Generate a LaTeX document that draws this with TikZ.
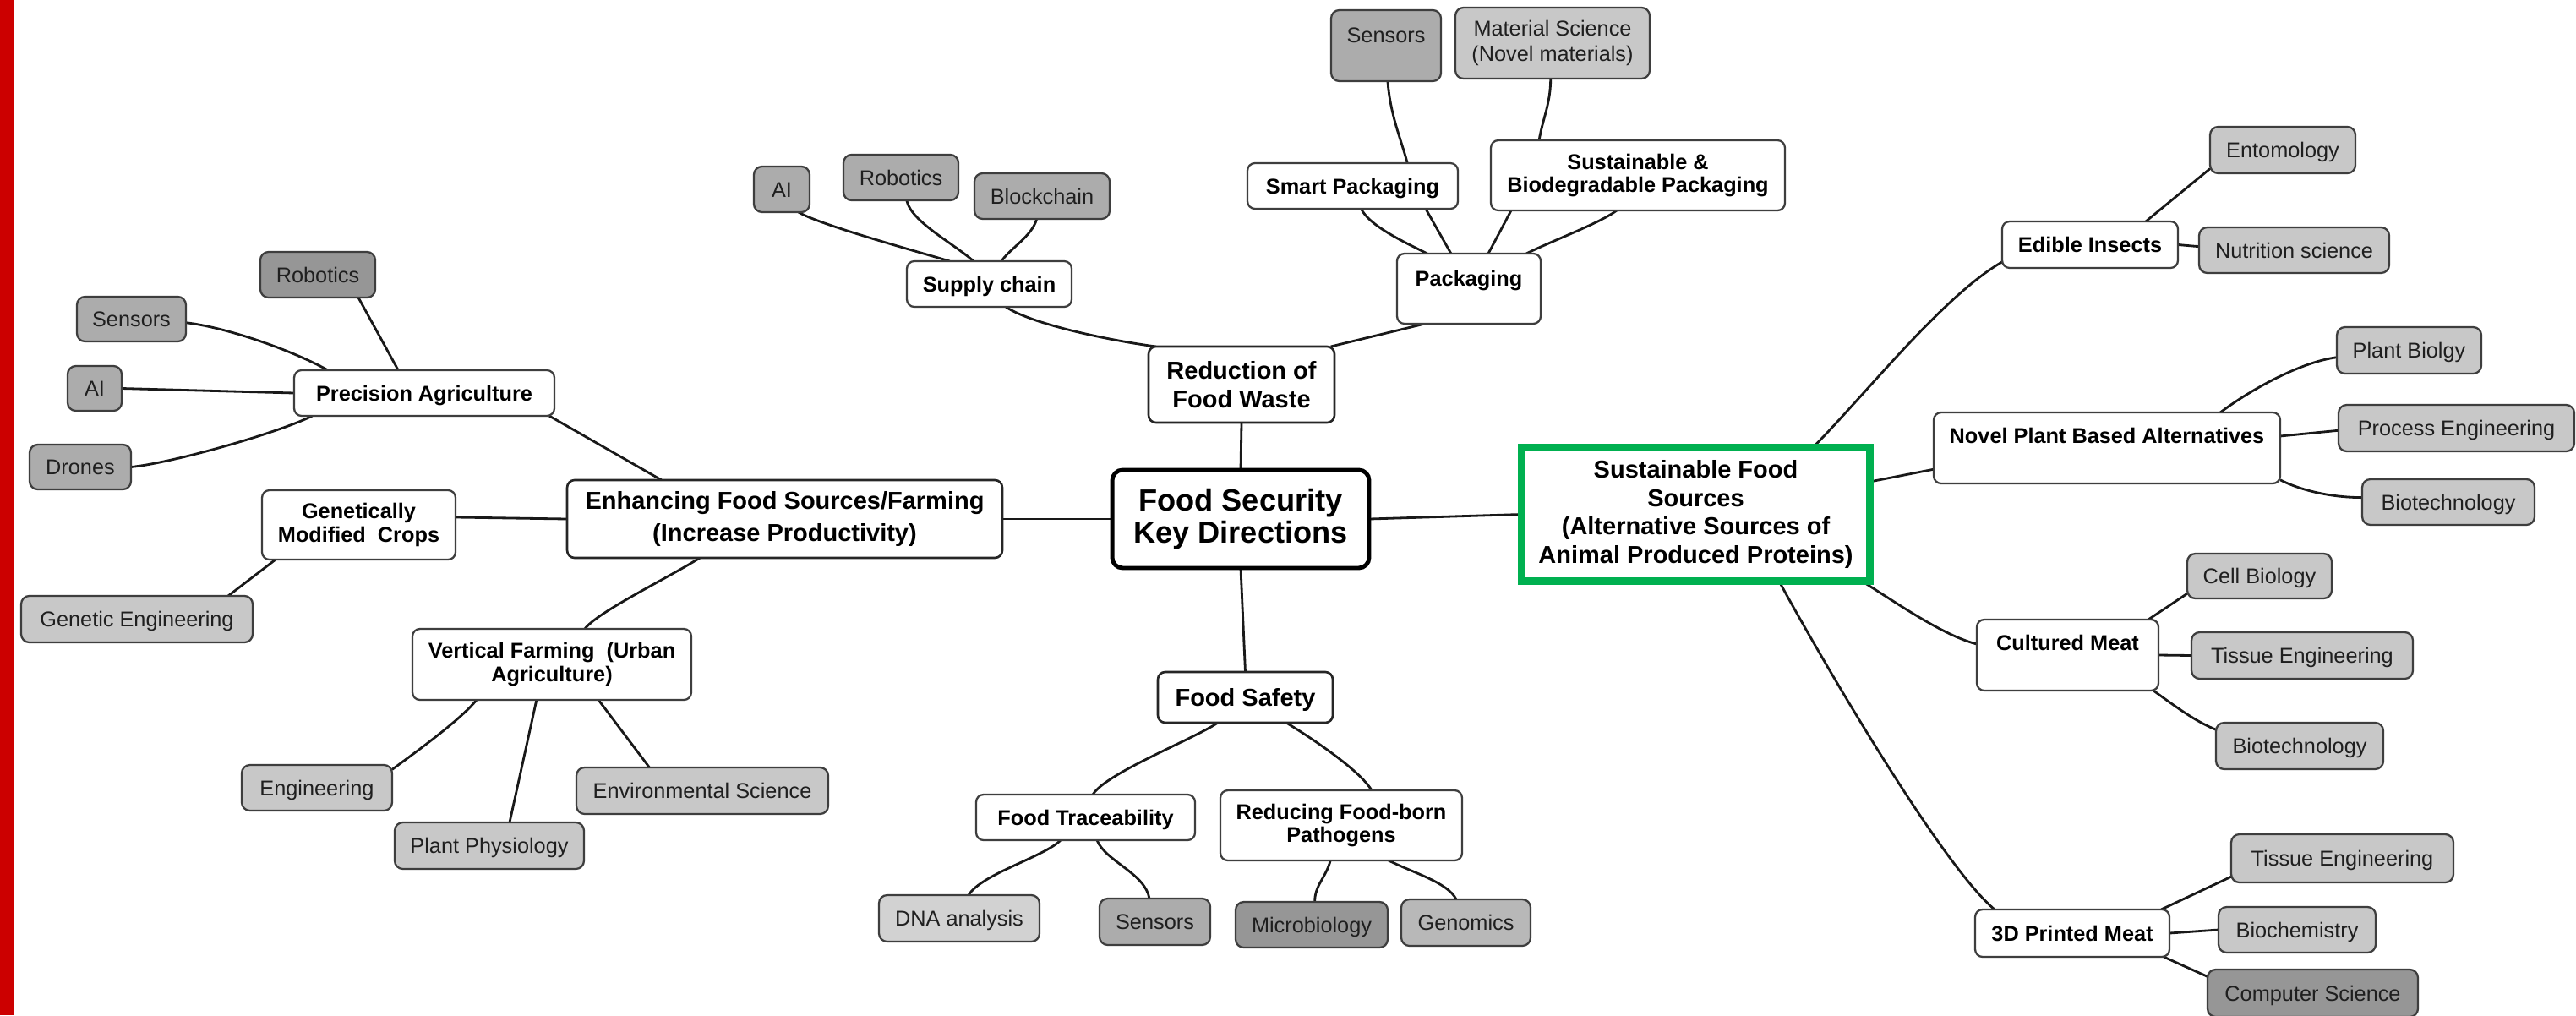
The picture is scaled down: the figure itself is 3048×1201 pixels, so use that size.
\documentclass[tikz,border=0pt]{standalone}
\usepackage{fontspec}
\setmainfont{Liberation Sans}
\usetikzlibrary{calc,backgrounds}
\definecolor{gL}{RGB}{200,200,200}
\definecolor{gM}{RGB}{172,172,172}
\definecolor{gD}{RGB}{150,150,150}
\definecolor{gN}{RGB}{184,184,184}
\definecolor{gP}{RGB}{210,210,210}
\definecolor{bord}{RGB}{62,62,62}
\definecolor{sfsgreen}{RGB}{0,176,80}
\definecolor{redbar}{RGB}{204,0,0}
\newcommand{\mmbox}[7]{\node[#2, minimum width={(#4-#3)*0.569055pt}, minimum height={(#6-#5)*0.569055pt}] (#1) at ({(#3+#4)/2},{(#5+#6)/2}) {#7};}
\newcommand{\tpf}[2]{($(#1.north west)!#2!(#1.north east)$)}
\newcommand{\btf}[2]{($(#1.south west)!#2!(#1.south east)$)}
\newcommand{\lff}[2]{($(#1.north west)!#2!(#1.south west)$)}
\newcommand{\rtf}[2]{($(#1.north east)!#2!(#1.south east)$)}
\tikzset{
  basebox/.style={rectangle, inner sep=0pt, outer sep=0pt, align=center},
  lvzero/.style={basebox, fill=white, draw=black, line width=2.8pt, rounded corners=7pt,
     font=\fontsize{20.6}{21.8}\selectfont\bfseries},
  lvone/.style={basebox, fill=white, draw=black!85, line width=1.5pt, rounded corners=5pt,
     font=\fontsize{16.5}{19}\selectfont\bfseries},
  sfsbox/.style={basebox, fill=white, draw=sfsgreen, line width=5.1pt,
     font=\fontsize{16.5}{19}\selectfont\bfseries},
  wbox/.style={basebox, fill=white, draw=bord, line width=1.3pt, rounded corners=5pt,
     font=\fontsize{14.4}{15.6}\selectfont\bfseries},
  leaf/.style={basebox, fill=#1, draw=bord, line width=1.3pt, rounded corners=5.5pt,
     text=black!88, font=\fontsize{14.4}{17}\selectfont},
  oneln/.style={text height=10.9pt, text depth=0.6pt},
  onelnb/.style={text height=12.4pt, text depth=0.6pt},
  liftt/.style={text height=10.9pt, text depth=#1},
  conn/.style={draw=black!90, line width=1.6pt}
}
\begin{document}
\begin{tikzpicture}[x=0.02cm, y=-0.02cm]
\useasboundingbox (0,0) rectangle (3048,1201);
% central and first level
\mmbox{C}{lvzero}{1316}{1620}{556}{672}{Food Security\\Key Directions}
\mmbox{RW}{lvone}{1359}{1579}{410}{500}{Reduction of\\Food Waste}
\mmbox{FS}{lvone,onelnb}{1370}{1577}{795}{855}{Food Safety}
\mmbox{EN}{lvone,font=\fontsize{16.5}{21.6}\selectfont\bfseries}{671}{1186}{568}{660}{Enhancing Food Sources/Farming\\(Increase Productivity)}
\mmbox{SFS}{sfsbox}{1800.5}{2212.5}{529.5}{687.5}{Sustainable Food\\Sources\\(Alternative Sources of\\Animal Produced Proteins)}
% second level
\mmbox{SC}{wbox,oneln}{1073}{1268}{309}{363}{Supply chain}
\mmbox{PK}{wbox,liftt=13.8pt}{1653}{1823}{300}{383}{Packaging}
\mmbox{SP}{wbox,oneln}{1476}{1725}{193}{247}{Smart Packaging}
\mmbox{SB}{wbox}{1764}{2112}{166}{249}{Sustainable \&\\Biodegradable Packaging}
\mmbox{PA}{wbox,oneln}{348}{656}{438}{492}{Precision Agriculture}
\mmbox{GMC}{wbox}{310}{539}{580}{662}{Genetically\\Modified\ \ Crops}
\mmbox{VF}{wbox}{488}{818}{744}{828}{Vertical Farming\ \ (Urban\\Agriculture)}
\mmbox{FT}{wbox,oneln}{1155}{1414}{940}{994}{Food Traceability}
\mmbox{RP}{wbox}{1444}{1730}{935}{1018}{Reducing Food-born\\Pathogens}
\mmbox{EI}{wbox,oneln}{2369}{2577}{262}{317}{Edible Insects}
\mmbox{NPBA}{wbox,liftt=17.2pt}{2288}{2698}{488}{572}{Novel Plant Based Alternatives}
\mmbox{CM}{wbox,liftt=17.2pt}{2339}{2554}{733}{817}{Cultured Meat}
\mmbox{TDP}{wbox,oneln}{2337}{2567}{1076}{1132}{3D Printed Meat}
% leaves
\mmbox{AIt}{leaf=gM,oneln}{892}{958}{197}{251}{AI}
\mmbox{ROt}{leaf=gM,oneln}{998}{1134}{183}{237}{Robotics}
\mmbox{BC}{leaf=gM,oneln}{1153}{1313}{205}{259}{Blockchain}
\mmbox{SNt}{leaf=gM,liftt=14.9pt}{1575}{1705}{12}{96}{Sensors}
\mmbox{MS}{leaf=gL}{1722}{1952}{9}{93}{Material Science\\(Novel materials)}
\mmbox{ROl}{leaf=gD,oneln}{308}{444}{298}{352}{Robotics}
\mmbox{SNl}{leaf=gM,oneln}{91}{220}{351}{404}{Sensors}
\mmbox{AIl}{leaf=gM,oneln}{80}{144}{433}{486}{AI}
\mmbox{DR}{leaf=gM,oneln}{35}{155}{526}{579}{Drones}
\mmbox{GE}{leaf=gL,oneln}{25}{299}{705}{760}{Genetic Engineering}
\mmbox{ENG}{leaf=gL,oneln}{286}{464}{905}{959}{Engineering}
\mmbox{PP}{leaf=gL,oneln}{467}{691}{973}{1028}{Plant Physiology}
\mmbox{ES}{leaf=gL,oneln}{682}{980}{908}{963}{Environmental Science}
\mmbox{DNA}{leaf=gP,oneln}{1040}{1230}{1059}{1114}{DNA analysis}
\mmbox{SNb}{leaf=gM,oneln}{1301}{1432}{1063}{1118}{Sensors}
\mmbox{MB}{leaf=gD,oneln}{1462}{1642}{1067}{1121}{Microbiology}
\mmbox{GN}{leaf=gN,oneln}{1658}{1811}{1064}{1119}{Genomics}
\mmbox{ENT}{leaf=gL,oneln}{2615}{2787}{150}{205}{Entomology}
\mmbox{NS}{leaf=gL,oneln}{2602}{2827}{269}{323}{Nutrition science}
\mmbox{PB}{leaf=gL,oneln}{2765}{2936}{387}{442}{Plant Biolgy}
\mmbox{PE}{leaf=gL,oneln}{2767}{3046}{479}{534}{Process Engineering}
\mmbox{BTa}{leaf=gL,oneln}{2795}{2999}{567}{621}{Biotechnology}
\mmbox{CB}{leaf=gL,oneln}{2588}{2759}{655}{708}{Cell Biology}
\mmbox{TEa}{leaf=gL,oneln}{2593}{2855}{748}{803}{Tissue Engineering}
\mmbox{BTb}{leaf=gL,oneln}{2622}{2820}{855}{910}{Biotechnology}
\mmbox{TEb}{leaf=gL,oneln}{2640}{2903}{987}{1044}{Tissue Engineering}
\mmbox{BCH}{leaf=gL,oneln}{2625}{2811}{1073}{1127}{Biochemistry}
\mmbox{CS}{leaf=gD,oneln}{2612}{2861}{1147}{1203}{Computer Science}
\begin{scope}[on background layer]
\fill[white] (0,0) rectangle (3048,1201);
\fill[redbar] (0,0) rectangle (16,1201);
% centre
\draw[conn] (RW.south) -- (C.north);
\draw[conn] (C.west) -- (EN.east);
\draw[conn] (C.east) -- (SFS.west);
\draw[conn] (C.south) -- (FS.north);
% food waste
\draw[conn] \btf{SC}{0.6} .. controls +(30,20) and +(-60,-8) .. \tpf{RW}{0.04};
\draw[conn] \btf{AIt}{0.8} .. controls +(25,15) and +(-40,-12) .. \tpf{SC}{0.26};
\draw[conn] \btf{ROt}{0.55} .. controls +(5,25) and +(-25,-22) .. \tpf{SC}{0.405};
\draw[conn] \btf{BC}{0.46} .. controls +(-5,20) and +(10,-15) .. \tpf{SC}{0.574};
\draw[conn] \btf{SNt}{0.515} .. controls +(3,40) and +(-8,-30) .. \tpf{SP}{0.76};
\draw[conn] \btf{MS}{0.49} .. controls +(0,30) and +(4,-25) .. \tpf{SB}{0.164};
\draw[conn] \btf{SP}{0.54} .. controls +(10,20) and +(-30,-15) .. \tpf{PK}{0.21};
\draw[conn] \btf{SP}{0.847} -- \tpf{PK}{0.376};
\draw[conn] \btf{SB}{0.069} -- \tpf{PK}{0.635};
\draw[conn] \btf{SB}{0.428} .. controls +(-20,15) and +(30,-15) .. \tpf{PK}{0.9};
\draw[conn] \btf{PK}{0.194} -- \tpf{RW}{0.98};
% farming
\draw[conn] \btf{PA}{0.98} -- \tpf{EN}{0.217};
\draw[conn] \btf{EN}{0.305} .. controls +(-40,25) and +(15,-20) .. \tpf{VF}{0.618};
\draw[conn] \btf{ROl}{0.853} -- \tpf{PA}{0.4};
\draw[conn] \rtf{SNl}{0.58} .. controls +(45,5) and +(-45,-25) .. \tpf{PA}{0.13};
\draw[conn] (AIl.east) -- (PA.west);
\draw[conn] (DR.east) .. controls +(50,-5) and +(-40,20) .. \btf{PA}{0.07};
\draw[conn] \rtf{GMC}{0.39} -- (EN.west);
\draw[conn] \tpf{GE}{0.894} -- \btf{GMC}{0.07};
\draw[conn] \btf{VF}{0.23} .. controls +(-20,25) and +(20,-15) .. \rtf{ENG}{0.1};
\draw[conn] \btf{VF}{0.445} -- \tpf{PP}{0.607};
\draw[conn] \btf{VF}{0.667} -- \tpf{ES}{0.29};
% safety
\draw[conn] \btf{FS}{0.343} .. controls +(-30,20) and +(15,-25) .. \tpf{FT}{0.533};
\draw[conn] \btf{FS}{0.734} .. controls +(25,15) and +(-15,-25) .. \tpf{RP}{0.626};
\draw[conn] \btf{FT}{0.386} .. controls +(-20,20) and +(15,-25) .. \tpf{DNA}{0.558};
\draw[conn] \btf{FT}{0.552} .. controls +(10,25) and +(-5,-30) .. \tpf{SNb}{0.45};
\draw[conn] \btf{RP}{0.455} .. controls +(-5,20) and +(0,-20) .. \tpf{MB}{0.52};
\draw[conn] \btf{RP}{0.696} .. controls +(30,15) and +(-10,-20) .. \tpf{GN}{0.425};
% sustainable sources
\draw[conn] \tpf{SFS}{0.836} .. controls +(60,-60) and +(-70,40) .. \lff{EI}{0.87};
\draw[conn] \tpf{EI}{0.817} -- \lff{ENT}{0.9};
\draw[conn] (EI.east) -- \lff{NS}{0.42};
\draw[conn] \rtf{SFS}{0.256} -- \lff{NPBA}{0.8};
\draw[conn] \tpf{NPBA}{0.827} .. controls +(40,-30) and +(-40,5) .. \lff{PB}{0.65};
\draw[conn] \rtf{NPBA}{0.333} -- \lff{PE}{0.55};
\draw[conn] \rtf{NPBA}{0.95} .. controls +(30,15) and +(-30,0) .. \lff{BTa}{0.4};
\draw[conn] \btf{SFS}{0.977} .. controls +(40,25) and +(-40,-10) .. \lff{CM}{0.345};
\draw[conn] \tpf{CM}{0.944} -- \lff{CB}{0.89};
\draw[conn] (CM.east) -- (TEa.west);
\draw[conn] \btf{CM}{0.972} .. controls +(25,18) and +(-25,-10) .. \lff{BTb}{0.15};
\draw[conn] \btf{SFS}{0.739} .. controls +(60,110) and +(-60,-50) .. \tpf{TDP}{0.1};
\draw[conn] \tpf{TDP}{0.957} -- \lff{TEb}{0.88};
\draw[conn] (TDP.east) -- (BCH.west);
\draw[conn] \btf{TDP}{0.97} -- \lff{CS}{0.15};
\end{scope}
\end{tikzpicture}
\end{document}
